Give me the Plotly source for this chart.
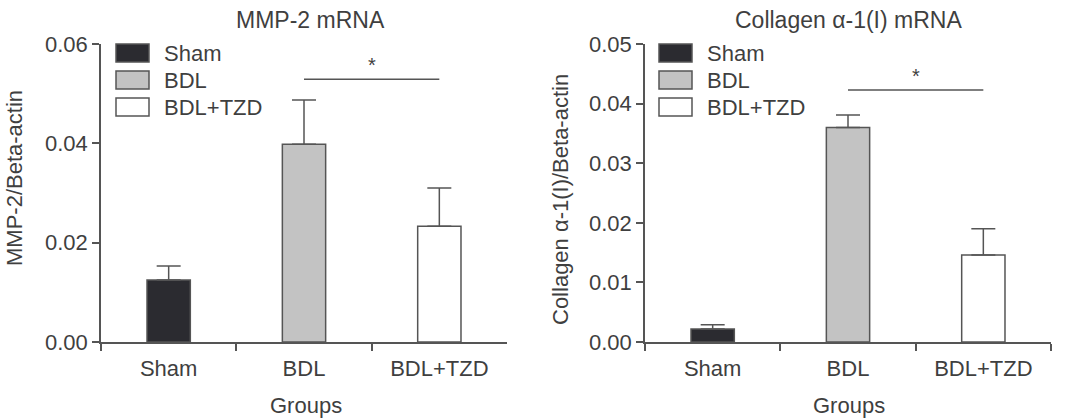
import plotly.graph_objects as go

W, H = 1065, 420

groups = ["Sham", "BDL", "BDL+TZD"]
colors = ["#2b2b30", "#c3c3c3", "#ffffff"]

mmp2_mean = [0.0125, 0.0398, 0.0233]
mmp2_err = [0.0028, 0.0089, 0.0077]
col_mean = [0.0022, 0.0360, 0.0146]
col_err = [0.0007, 0.0021, 0.0044]

mmp2_sig_y = 0.0529
col_sig_y = 0.0423

titles = ["MMP-2 mRNA", "Collagen α-1(I) mRNA"]
ytitles = ["MMP-2/Beta-actin", "Collagen α-1(I)/Beta-actin"]
xtitle = "Groups"
yticks_left = [0.00, 0.02, 0.04, 0.06]
yticks_right = [0.00, 0.01, 0.02, 0.03, 0.04, 0.05]

FONT = "Liberation Sans, Arial, Helvetica, sans-serif"
TXT = "#3f3f3f"
LINE = "#555555"
FS = 22

def px(x):
    return x / W

def py(y):
    return 1 - y / H

fig = go.Figure()

panels = [
    dict(xa="x", ya="y", mean=mmp2_mean, err=mmp2_err, sig=mmp2_sig_y),
    dict(xa="x2", ya="y2", mean=col_mean, err=col_err, sig=col_sig_y),
]

for p in panels:
    for g, m, e, c in zip(groups, p["mean"], p["err"], colors):
        fig.add_trace(go.Bar(
            x=[g], y=[m], xaxis=p["xa"], yaxis=p["ya"], width=0.32,
            marker=dict(color=c, line=dict(color=LINE, width=1.5)),
            error_y=dict(type="data", symmetric=False, array=[e], arrayminus=[0],
                         color=LINE, thickness=1.5, width=12),
            showlegend=False, name=g,
        ))
    fig.add_trace(go.Scatter(
        x=[groups[1], groups[2]], y=[p["sig"], p["sig"]], xaxis=p["xa"], yaxis=p["ya"],
        mode="lines", line=dict(color=LINE, width=1.5), showlegend=False, hoverinfo="skip",
    ))
    fig.add_annotation(x=1.5, y=p["sig"], xref=p["xa"], yref=p["ya"], text="*",
                       showarrow=False, xanchor="center", yanchor="bottom", yshift=1,
                       font=dict(size=20, color=TXT, family=FONT))

ydom = [py(342), py(44)]
axis_common = dict(showline=True, linecolor=LINE, linewidth=1.5, ticks="outside",
                   tickcolor=LINE, tickwidth=1.5, ticklen=7, showgrid=False, zeroline=False,
                   automargin=False,
                   tickfont=dict(size=FS, color=TXT, family=FONT))

fig.update_layout(
    template="none",
    width=W, height=H, autosize=False, margin=dict(l=0, r=0, t=0, b=0, pad=0),
    plot_bgcolor="white", paper_bgcolor="white", barmode="overlay", showlegend=False,
    font=dict(family=FONT, color=TXT),
    xaxis=dict(domain=[px(101), px(507)], anchor="y", type="category",
               categoryorder="array", categoryarray=groups, range=[-0.5, 2.5],
               tickson="boundaries", ticklabelstandoff=6, **axis_common),
    yaxis=dict(domain=ydom, anchor="x", range=[0, 0.06], tickvals=yticks_left,
               ticktext=[f"{v:.2f}" for v in yticks_left], **axis_common),
    xaxis2=dict(domain=[px(645), px(1051)], anchor="y2", type="category",
                categoryorder="array", categoryarray=groups, range=[-0.5, 2.5],
                tickson="boundaries", ticklabelstandoff=6, **axis_common),
    yaxis2=dict(domain=ydom, anchor="x2", range=[0, 0.05], tickvals=yticks_right,
                ticktext=[f"{v:.2f}" for v in yticks_right], **axis_common),
)

# titles
for cx, t in zip([310, 848], titles):
    fig.add_annotation(x=px(cx), y=py(20), xref="paper", yref="paper", text=t,
                       showarrow=False, xanchor="center", yanchor="middle",
                       font=dict(size=23, color=TXT, family=FONT))
for cx in [306, 849]:
    fig.add_annotation(x=px(cx), y=py(405), xref="paper", yref="paper", text=xtitle,
                       showarrow=False, xanchor="center", yanchor="middle",
                       font=dict(size=FS, color=TXT, family=FONT))
for cx, cy, t in zip([14, 560], [178, 200], ytitles):
    fig.add_annotation(x=px(cx), y=py(cy), xref="paper", yref="paper", text=t,
                       textangle=-90, showarrow=False, xanchor="center", yanchor="middle",
                       font=dict(size=FS, color=TXT, family=FONT))

# legends
row_y = [53, 80, 107]
for bx in [116, 659]:
    for g, c, ry in zip(groups, colors, row_y):
        fig.add_shape(type="rect", xref="paper", yref="paper",
                      x0=px(bx), x1=px(bx + 33), y0=py(ry - 9), y1=py(ry + 9),
                      fillcolor=c, line=dict(color=LINE, width=1.5))
        fig.add_annotation(x=px(bx + 46), y=py(ry), xref="paper", yref="paper", text=g,
                           showarrow=False, xanchor="left", yanchor="middle",
                           font=dict(size=FS, color=TXT, family=FONT))

fig.write_html("out.html")
